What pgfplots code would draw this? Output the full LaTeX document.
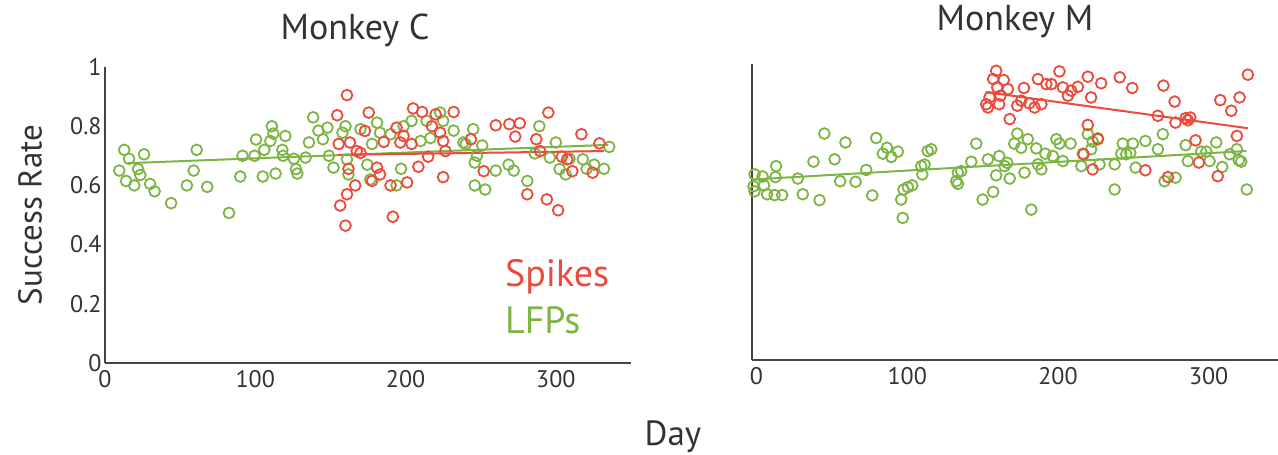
\documentclass[border=0pt]{standalone}
\usepackage{fontspec}
\setmainfont{PT Sans}
\usepackage{pgfplots}
\usepackage{pgfplotstable}
\pgfplotsset{compat=1.18}

\definecolor{spk}{HTML}{EC4A3A}
\definecolor{lfp}{HTML}{7DB544}
\definecolor{axgray}{HTML}{454545}
\definecolor{txt}{HTML}{333333}

% Monkey C, LFPs
\pgfplotstableread{
day val
12.8 0.72
16 0.69
26 0.705
9.5 0.65
14 0.615
19.5 0.60
22 0.655
23.5 0.635
30 0.605
33 0.58
44 0.54
61 0.72
59 0.65
54.5 0.60
68 0.595
82.5 0.507
90 0.63
91.5 0.70
99.5 0.70
100.5 0.755
105 0.63
113.5 0.64
106 0.72
111 0.80
112 0.775
110 0.75
118 0.72
118.5 0.70
120 0.767
125.7 0.69
127 0.655
128 0.64
133.5 0.694
135.7 0.745
138.5 0.83
142 0.785
145 0.756
148 0.795
149 0.70
152 0.66
158 0.778
160 0.80
161 0.688
162 0.637
170 0.79
174.5 0.67
176.5 0.62
177.7 0.74
181 0.812
183 0.778
190 0.773
197 0.656
194 0.60
198.7 0.80
204 0.818
210 0.75
214 0.818
216.5 0.76
223 0.846
225 0.818
232 0.785
238.5 0.745
245 0.79
240 0.74
251 0.735
246 0.677
247.5 0.70
260 0.65
246 0.60
253 0.586
268.5 0.67
272 0.65
281 0.615
289 0.80
286 0.708
296 0.694
300 0.745
302.5 0.655
306.5 0.637
309 0.69
318 0.688
320.5 0.656
325.5 0.67
332 0.656
335.5 0.73
}\lfpC

% Monkey C, spikes
\pgfplotstableread{
day val
161 0.905
154.5 0.837
175.5 0.846
155.5 0.74
163 0.745
167.5 0.716
170 0.71
173 0.784
162 0.656
166.5 0.60
161 0.57
156.5 0.532
160 0.464
181 0.66
183 0.637
177.7 0.615
190 0.60
191.5 0.494
185.5 0.747
194 0.795
198.7 0.767
196.5 0.745
204 0.74
205 0.86
211 0.848
220 0.84
217.5 0.80
223 0.778
225 0.75
226.5 0.716
215 0.697
208.5 0.663
201 0.61
225 0.628
232 0.848
295 0.846
260 0.803
269 0.807
276 0.81
273 0.765
243.5 0.756
287 0.756
289.5 0.716
317 0.773
329 0.742
304 0.697
307.5 0.688
311 0.648
324.5 0.643
252 0.648
281 0.57
294 0.553
301.5 0.516
}\spkC

% Monkey M, LFPs
\pgfplotstableread{
day val
-1.3 0.627
-1.3 0.57
-2 0.587
4 0.62
5 0.59
13 0.655
12.6 0.618
7 0.56
12 0.557
17 0.557
27.4 0.613
30.7 0.56
37.8 0.67
41.8 0.54
45 0.765
51.8 0.678
55.5 0.604
59 0.735
65.7 0.602
72.8 0.642
76.8 0.556
79.4 0.75
83.8 0.697
86.5 0.717
89.4 0.686
93.8 0.704
96 0.542
97 0.48
97.5 0.576
100.4 0.584
103.3 0.59
109.3 0.655
111.5 0.66
110 0.627
113.6 0.706
116 0.712
133.6 0.633
132.5 0.604
135.8 0.638
133.6 0.595
145.8 0.731
142.5 0.67
150 0.542
157 0.568
153.5 0.678
161 0.689
164.6 0.655
166.3 0.666
159 0.624
168 0.613
173 0.765
171 0.731
175.6 0.717
180 0.746
177.8 0.633
182.3 0.508
185.6 0.715
186.7 0.661
189 0.644
191.6 0.697
196.6 0.689
198.9 0.746
201 0.731
203.3 0.672
208.4 0.731
216.5 0.697
219.8 0.763
222 0.712
223 0.738
226.5 0.749
227.6 0.661
215.5 0.655
243 0.731
249.7 0.731
258 0.74
242 0.697
245.3 0.695
248 0.70
237.6 0.661
251.5 0.65
237.6 0.576
266.3 0.712
269.6 0.763
270.7 0.604
278 0.616
284.7 0.726
286.2 0.672
295 0.704
298.4 0.704
300.6 0.672
305 0.735
309 0.652
313.9 0.695
318.7 0.712
320 0.675
321.6 0.67
325.3 0.576
}\lfpM

% Monkey M, spikes
\pgfplotstableread{
day val
159 0.977
157 0.949
164 0.946
159.7 0.921
166.8 0.915
154.6 0.887
152.4 0.864
153.5 0.853
161.9 0.893
161 0.864
168 0.814
173 0.859
177.4 0.919
175.6 0.876
181 0.867
184.5 0.853
189 0.864
186.7 0.949
192.3 0.932
195.6 0.932
201 0.975
203.3 0.921
206.6 0.893
208.8 0.91
213.2 0.923
219.8 0.957
222 0.887
228.7 0.935
219.8 0.794
217 0.695
223 0.644
226.5 0.746
241 0.955
249.3 0.919
270 0.927
277.4 0.873
266.3 0.825
278 0.802
284.7 0.817
287.8 0.819
286.2 0.81
307.7 0.878
315 0.842
320.5 0.887
326 0.964
318.7 0.757
291.3 0.742
293.5 0.667
258 0.641
273 0.618
306 0.621
}\spkM

\pgfplotsset{
  monkey/.style={
    scale only axis, width=526pt, height=296pt,
    axis lines*=left,
    axis line style={axgray, line width=2pt},
    ymin=0, ymax=1,
    major tick length=0pt,
    xtick={0,100,200,300},
    tick label style={font=\fontsize{24}{28}\selectfont, text=txt},
    xticklabel style={yshift=-4pt},
    /pgf/number format/assume math mode=true,
    clip=false,
  },
  dots/.style={only marks, mark=o, mark size=5.4pt, line width=1.8pt, #1},
  fit/.style={no marks, line width=2pt, #1},
}

\begin{document}
\begin{tikzpicture}
\useasboundingbox (0,0) rectangle (1278pt,455pt);

\begin{axis}[monkey, at={(105pt,92pt)}, anchor=south west,
  xmin=0, xmax=350,
  ytick={0,0.2,0.4,0.6,0.8,1}]
  \addplot[dots=lfp] table[x=day, y=val] {\lfpC};
  \addplot[dots=spk] table[x=day, y=val] {\spkC};
  \addplot[fit=lfp] coordinates {(15,0.675) (335,0.737)};
  \addplot[fit=spk] coordinates {(155,0.703) (332,0.716)};
\end{axis}

\begin{axis}[monkey, at={(752pt,95pt)}, anchor=south west,
  xmin=-3, xmax=346,
  ytick=\empty]
  \addplot[dots=lfp] table[x=day, y=val] {\lfpM};
  \addplot[dots=spk] table[x=day, y=val] {\spkM};
  \addplot[fit=lfp] coordinates {(-2,0.61) (325,0.706)};
  \addplot[fit=spk] coordinates {(152,0.905) (326,0.783)};
\end{axis}

\node[txt, font=\fontsize{36}{42}\selectfont] at (355pt,425pt) {Monkey C};
\node[txt, font=\fontsize{36}{42}\selectfont] at (1015pt,433pt) {Monkey M};
\node[txt, font=\fontsize{33}{38}\selectfont, rotate=90] at (30pt,240pt) {Success Rate};
\node[txt, font=\fontsize{35}{40}\selectfont] at (673pt,18pt) {Day};
\node[spk, font=\fontsize{38}{44}\selectfont, anchor=west, inner sep=0pt] at (505pt,178pt) {Spikes};
\node[lfp, font=\fontsize{38}{44}\selectfont, anchor=west, inner sep=0pt] at (505pt,135pt) {LFPs};
\end{tikzpicture}
\end{document}
